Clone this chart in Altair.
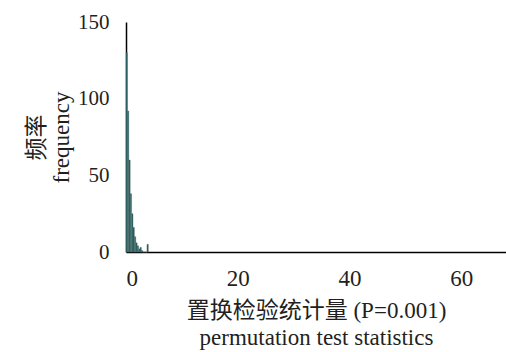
import altair as alt
import pandas as pd

bin_start = [0.0, 0.25, 0.5, 0.75, 1.0, 1.25, 1.5, 1.75, 2.0, 2.25, 2.5, 2.75, 3.0, 3.25, 3.5, 3.75]
counts =    [130, 92,   60,  38,   25,  16,   10,  6,    4,   2,    3,   1,    0,   0,    0,   5]
bin_width = 0.25
x_ticks = [0, 20, 40, 60]
y_ticks = [0, 50, 100, 150]

df = pd.DataFrame({"start": bin_start, "count": counts})
df["end"] = df["start"] + bin_width

FONT = "Liberation Serif, Times New Roman, Noto Sans CJK SC"

chart = alt.Chart(df).mark_bar(
    color="#1e5b5b", stroke="#5f7272", strokeWidth=0.4
).encode(
    x=alt.X("start:Q", scale=alt.Scale(domain=[0, 68], nice=False, zero=True),
            axis=alt.Axis(values=x_ticks, title=["置换检验统计量 (P=0.001)", "permutation test statistics"],
                          ticks=False, grid=False, domainColor="#000", domainWidth=1.5,
                          labelFont=FONT, labelFontSize=23, labelColor="#231f20", labelPadding=15,
                          titleFont=FONT, titleFontSize=23, titleFontWeight="normal", titleColor="#231f20",
                          titlePadding=9, titleLineHeight=27)),
    x2="end:Q",
    y=alt.Y("count:Q", scale=alt.Scale(domain=[0, 150], nice=False),
            axis=alt.Axis(values=y_ticks, title=["频率", "frequency"],
                          ticks=False, grid=False, domainColor="#000", domainWidth=1.5,
                          labelFont=FONT, labelFontSize=21, labelColor="#231f20", labelPadding=17,
                          titleFont=FONT, titleFontSize=23, titleFontWeight="normal", titleColor="#231f20",
                          titlePadding=4, titleLineHeight=25)),
    y2=alt.datum(0),
).properties(
    width=380, height=230,
    autosize=alt.AutoSizeParams(type="none"),
    padding={"left": 126, "top": 22, "right": 0, "bottom": 100},
).configure_view(stroke=None)

chart.save("out.html", embed_options={"renderer": "svg", "actions": False})
